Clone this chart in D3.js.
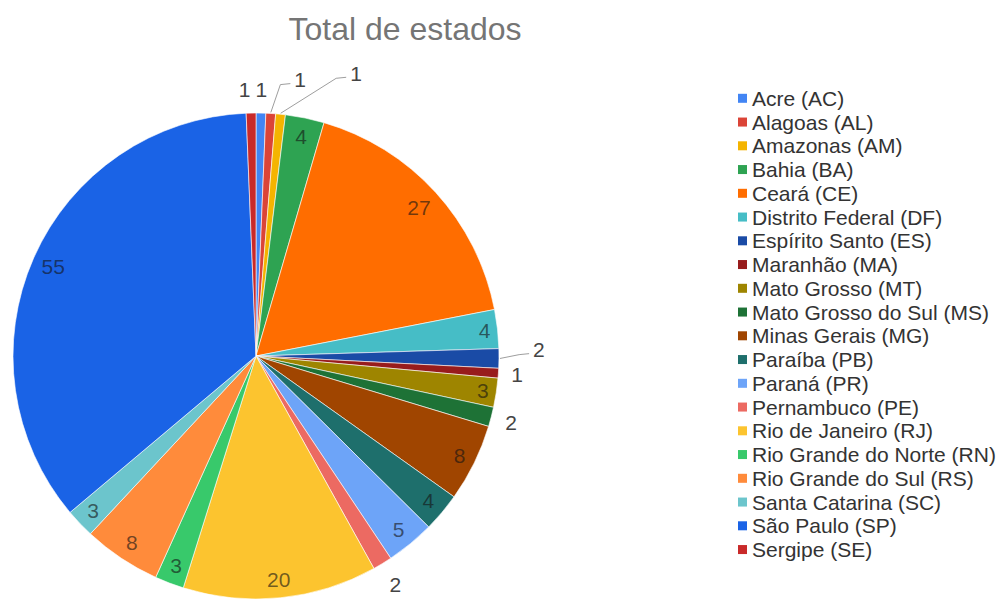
<!DOCTYPE html>
<html>
<head>
<meta charset="utf-8">
<script src="https://cdn.jsdelivr.net/npm/d3@7"></script>
<style>
  html, body { margin: 0; padding: 0; background: #fff; }
  svg { display: block; font-family: "Liberation Sans", Arial, sans-serif; }
</style>
</head>
<body>
<svg id="chart" width="1008" height="599"></svg>
<script>
// ---- data ----
const title = "Total de estados";
const states = [
  "Acre (AC)", "Alagoas (AL)", "Amazonas (AM)", "Bahia (BA)", "Ceará (CE)",
  "Distrito Federal (DF)", "Espírito Santo (ES)", "Maranhão (MA)", "Mato Grosso (MT)",
  "Mato Grosso do Sul (MS)", "Minas Gerais (MG)", "Paraíba (PB)", "Paraná (PR)",
  "Pernambuco (PE)", "Rio de Janeiro (RJ)", "Rio Grande do Norte (RN)",
  "Rio Grande do Sul (RS)", "Santa Catarina (SC)", "São Paulo (SP)", "Sergipe (SE)"
];
const codes = ["AC","AL","AM","BA","CE","DF","ES","MA","MT","MS","MG","PB","PR","PE","RJ","RN","RS","SC","SP","SE"];
const values = [1, 1, 1, 4, 27, 4, 2, 1, 3, 2, 8, 4, 5, 2, 20, 3, 8, 3, 55, 1];

// ---- style / layout ----
const palette = [
  "#4285f4", "#db4437", "#f4b400", "#2ea352", "#ff6d00",
  "#46bdc6", "#1a4ba6", "#981c1c", "#9e8500", "#1e7236",
  "#a04500", "#1e6f6c", "#6da4f8", "#ec6a62", "#fcc42f",
  "#38c96b", "#ff8b3b", "#6cc5cc", "#1a63e6", "#c92a2a"
];
const cx = 256, cy = 356, R = 243;
const labelFont = 21;
// manual nudges for crowded outside labels (offset from natural spot)
const labelShift = { SE: [-6, 0], AL: [28, -10], AM: [73, -17], ES: [22, -9] };
const leader = new Set(["AL", "AM", "ES"]);

const svg = d3.select("#chart");

svg.append("text")
  .attr("x", 405).attr("y", 40)
  .attr("text-anchor", "middle")
  .attr("font-size", 32)
  .attr("fill", "#757575")
  .text(title);

const data = states.map((s, i) => ({ name: s, code: codes[i], value: values[i], color: palette[i] }));

const pie = d3.pie().value(d => d.value).sort(null).startAngle(0).endAngle(2 * Math.PI);
const arcs = pie(data);
const arc = d3.arc().innerRadius(0).outerRadius(R);

const g = svg.append("g").attr("transform", `translate(${cx},${cy})`);

g.selectAll("path.slice").data(arcs).join("path")
  .attr("class", "slice")
  .attr("d", arc)
  .attr("fill", d => d.data.color)
  .attr("stroke", "#fff")
  .attr("stroke-width", 0.6);

// measure text widths
const meas = svg.append("text").attr("font-size", labelFont).attr("visibility", "hidden");
function textW(t) { meas.text(t); return meas.node().getComputedTextLength(); }

const labels = arcs.map(a => {
  const t = String(a.data.value);
  const w = textW(t);
  const hw = w / 2, hh = labelFont * 0.55;
  const ang = (a.startAngle + a.endAngle) / 2;
  const s = Math.sin(ang), c = -Math.cos(ang);
  const proj = Math.abs(s) * hw + Math.abs(c) * hh;
  const inside = a.data.value >= 3;
  const d = inside ? R - 6 - proj : R + 12 + proj;
  let x = s * d, y = c * d;
  const sh = labelShift[a.data.code];
  if (!inside && sh) { x += sh[0]; y += sh[1]; }
  return { t, x, y, hw, ang, inside, code: a.data.code };
});
meas.remove();

// leader lines
labels.filter(l => leader.has(l.code)).forEach(l => {
  const sx = Math.sin(l.ang) * (R + 1), sy = -Math.cos(l.ang) * (R + 1);
  const ex = l.x - l.hw - 4, ey = l.y + 4;
  const bx = ex - 10, by = ey + 1;
  g.append("path")
    .attr("d", d3.line()([[sx, sy], [bx, by], [ex, ey]]))
    .attr("fill", "none")
    .attr("stroke", "#9e9e9e")
    .attr("stroke-width", 1);
});

g.selectAll("text.lbl").data(labels).join("text")
  .attr("class", "lbl")
  .attr("x", d => d.x).attr("y", d => d.y)
  .attr("text-anchor", "middle")
  .attr("dominant-baseline", "central")
  .attr("font-size", labelFont)
  .attr("fill", d => d.inside ? "rgba(20,20,20,0.62)" : "#444")
  .text(d => d.t);

// legend
const legY0 = 98.3, legStep = 23.75, legX = 738;
const leg = svg.append("g");
const rows = leg.selectAll("g.row").data(data).join("g")
  .attr("class", "row")
  .attr("transform", (d, i) => `translate(${legX},${legY0 + i * legStep})`);
rows.append("rect")
  .attr("x", 0).attr("y", -4.5).attr("width", 9).attr("height", 9)
  .attr("fill", d => d.color);
rows.append("text")
  .attr("x", 14).attr("y", 0)
  .attr("dominant-baseline", "central")
  .attr("font-size", 21)
  .attr("fill", "#333")
  .text(d => d.name);
</script>
</body>
</html>
